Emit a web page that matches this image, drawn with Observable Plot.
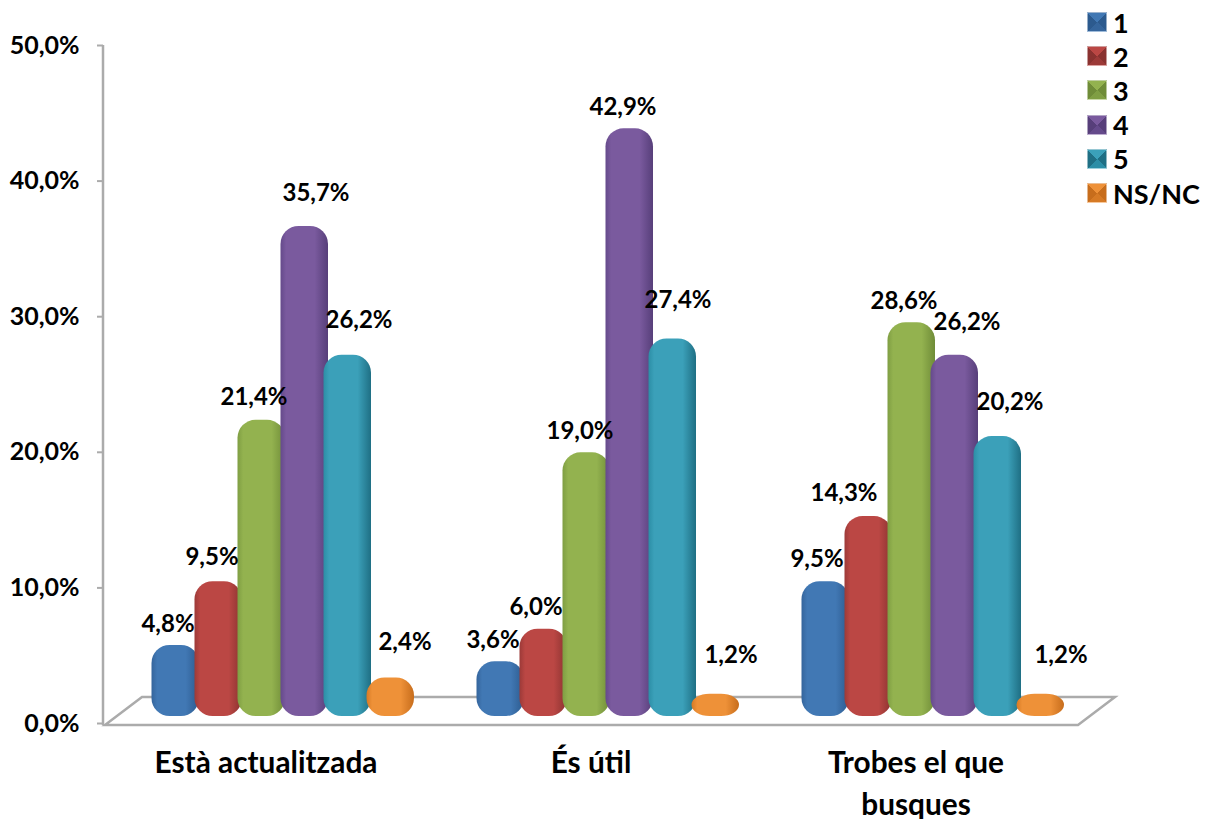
<!DOCTYPE html>
<html><head><meta charset="utf-8">
<style>
html,body{margin:0;padding:0;background:#fff;width:1205px;height:819px;overflow:hidden}
#wrap{position:relative;width:1205px;height:819px}
#legend{position:absolute;left:1087px;top:5px;font:700 27px Lato,sans-serif;color:#000}
#legend .row{display:flex;align-items:center;height:34.2px;gap:6px}
#legend .sw{width:20px;height:20px;box-sizing:border-box;border:1px solid rgba(255,255,255,.5)}
</style>
<script src="https://cdn.jsdelivr.net/npm/d3@7"></script>
<script src="https://cdn.jsdelivr.net/npm/@observablehq/plot@0.6"></script>
</head><body><div id="wrap"><div id="legend"></div></div>
<script>
const categories = ["Està actualitzada", "És útil", "Trobes el que busques"];
const seriesNames = ["1", "2", "3", "4", "5", "NS/NC"];
const actualitzada = [4.8, 9.5, 21.4, 35.7, 26.2, 2.4];
const util = [3.6, 6.0, 19.0, 42.9, 27.4, 1.2];
const trobes = [9.5, 14.3, 28.6, 26.2, 20.2, 1.2];
const yTicks = [0, 10, 20, 30, 40, 50];
const palette = [
  ["#35659c", "#4178b4", "#2c5a8e"],
  ["#9c3a38", "#bb4744", "#8a3230"],
  ["#7f9e43", "#93b24f", "#6f8c38"],
  ["#654a8b", "#7a5a9e", "#573f7a"],
  ["#2c8ea6", "#3ba0b9", "#1f6f84"],
  ["#d67a25", "#ee9138", "#c76d1c"]
];

const rows = [actualitzada, util, trobes].flatMap((vals, c) =>
  vals.map((value, s) => ({category: categories[c], series: seriesNames[s], value})));

// label nudges (mark options): [dx, gap above bar top]
const nudges = [
  [[-8,21],[-7,24],[-8,23],[11,33],[11,35],[14,36]],
  [[-8,21],[-8,22],[-7,22],[-7,21],[5,39],[15,39]],
  [[-9,22],[-25,23],[-8,21],[12,33],[12,34],[20,39]]
];
const labelMarks = rows.map((d, i) => {
  const [dx, gap] = nudges[Math.floor(i / 6)][i % 6];
  return Plot.text([d], {
    fx: "category", x: "series", y: "value",
    text: r => r.value.toFixed(1).replace(".", ",") + "%",
    dx: 17 + dx, dy: -13 - gap, fontSize: 24, fontWeight: 700, fill: "#000"
  });
});

const floorRender = (index, scales, values, dims) => {
  const b = scales.y(0) + 2, L = dims.marginLeft + 2, R = dims.width - dims.marginRight;
  const g = d3.create("svg:g");
  g.append("path").attr("fill", "none").attr("stroke", "#ababab").attr("stroke-width", 2.5)
    .attr("d", `M${L},${b}L${R},${b}L${R + 37},${b - 28}L${L + 37},${b - 28}Z`);
  g.append("line").attr("stroke", "#ababab").attr("stroke-width", 2.5)
    .attr("x1", L - 2).attr("x2", L - 2).attr("y1", scales.y(50)).attr("y2", b);
  return g.node();
};

const chart = Plot.plot({
  width: 1205, height: 819,
  marginTop: 45, marginBottom: 96, marginLeft: 103, marginRight: 127,
  style: {fontFamily: "Lato, sans-serif", background: "transparent", overflow: "visible"},
  fx: {domain: categories, padding: 0, label: null},
  x: {domain: seriesNames, paddingInner: 0, paddingOuter: 0.73, axis: null},
  y: {domain: [0, 50], label: null},
  color: {domain: seriesNames, range: seriesNames.map((_, i) => `url(#bar${i})`)},
  marks: [
    Plot.text([0], {facet: "super", frameAnchor: "middle", text: () => ".", render: floorRender}),
    Plot.axisY(yTicks, {
      tickSize: 6, tickPadding: 18, stroke: "#ababab", strokeWidth: 2, fill: "#000",
      fontSize: 25, fontWeight: 700, label: null,
      tickFormat: d => d.toFixed(1).replace(".", ",") + "%"
    }),
    Plot.axisFx({
      anchor: "bottom", tickSize: 0, tickPadding: 20, label: null, fontSize: 29.8, fontWeight: 700,
      fill: "#000", lineHeight: 1.4, lineAnchor: "top",
      tickFormat: d => d === "Trobes el que busques" ? "Trobes el que\nbusques" : d
    }),
    Plot.barY(rows, {
      fx: "category", x: "series", y1: 0, y2: "value", fill: "series",
      rx: 18, dx: 14.5, dy: -7, insetTop: -6, insetRight: -4.5, ariaLabel: "bars"
    }),
    ...labelMarks
  ]
});

const defs = d3.select(chart).insert("defs", ":first-child");
palette.forEach(([a, b, c], i) => {
  const lg = defs.append("linearGradient").attr("id", `bar${i}`);
  [[0, a], [0.12, b], [0.72, b], [1, c]].forEach(([o, col]) =>
    lg.append("stop").attr("offset", o).attr("stop-color", col));
});
const f = defs.append("filter").attr("id", "bevel").attr("x", "-10%").attr("y", "-10%")
  .attr("width", "120%").attr("height", "120%").attr("color-interpolation-filters", "sRGB");
f.append("feGaussianBlur").attr("in", "SourceAlpha").attr("stdDeviation", 3).attr("result", "blur");
const di = f.append("feDiffuseLighting").attr("in", "blur").attr("surfaceScale", 9).attr("diffuseConstant", 1.04)
  .attr("lighting-color", "#fff").attr("result", "diff");
di.append("feDistantLight").attr("azimuth", 90).attr("elevation", 74);
f.append("feComposite").attr("in", "SourceGraphic").attr("in2", "diff").attr("operator", "arithmetic")
  .attr("k1", 1).attr("k2", 0).attr("k3", 0).attr("k4", 0).attr("result", "shaded");
f.append("feComposite").attr("in", "shaded").attr("in2", "SourceAlpha").attr("operator", "in");
d3.select(chart).selectAll('g[aria-label="bars"] rect, g[aria-label="bars"] path').attr("filter", "url(#bevel)");

document.getElementById("wrap").prepend(chart);

const legend = d3.select("#legend");
seriesNames.forEach((name, i) => {
  const [a, b, c] = palette[i];
  const row = legend.append("div").attr("class", "row");
  row.append("div").attr("class", "sw")
    .style("background", `conic-gradient(from 45deg, ${c}, ${c} 25%, ${a} 25%, ${a} 50%, ${c} 50%, ${c} 75%, ${b} 75%, ${b})`);
  row.append("span").text(name);
});
</script></body></html>
